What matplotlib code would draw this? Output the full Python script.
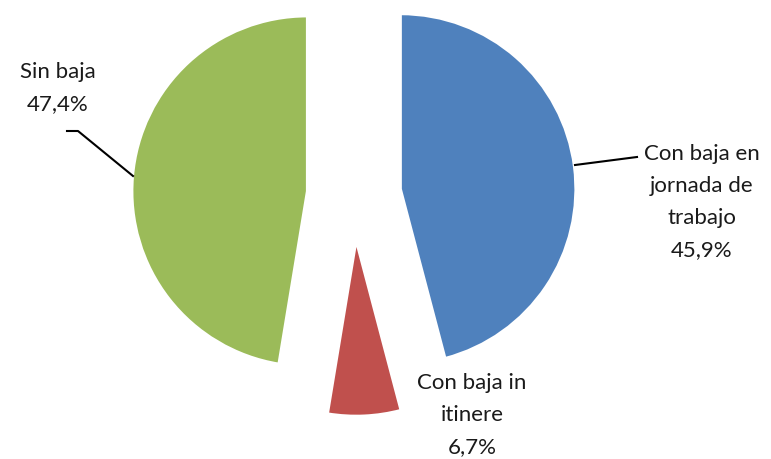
import matplotlib.pyplot as plt

# data
labels = ["Con baja en\njornada de\ntrabajo\n45,9%", "Con baja in\nitinere\n6,7%", "Sin baja\n47,4%"]
shares = [45.9, 6.7, 47.4]
colors = ["#4F81BD", "#C0504D", "#9BBB59"]

W, H = 771, 459
fig = plt.figure(figsize=(W / 100, H / 100), dpi=100)
ax = fig.add_axes([0, 0, 1, 1])

# pixel coords (y measured from top in the picture)
cx, cy, r = 354, 195, 175
explode = [47, 46, 47]  # offsets in pixels (pie uses data units)

ax.pie(shares, colors=colors, explode=explode, startangle=90, counterclock=False,
       center=(cx, H - cy), radius=r, frame=True,
       wedgeprops=dict(edgecolor="white", linewidth=1.8))
ax.set_xlim(0, W)
ax.set_ylim(0, H)
ax.set_aspect("equal")
ax.axis("off")

font = dict(family="Lato", fontsize=16, color="#1a1a1a", ha="center", va="center",
            linespacing=1.76)
ax.text(702, H - 202, labels[0], **font)
ax.text(472, H - 415, labels[1], **font)
ax.text(58, H - 88, labels[2], **font)

# leader lines
ax.plot([575, 637], [H - 165, H - 157], color="black", lw=1.5)
ax.plot([67, 78, 133], [H - 131, H - 131, H - 176], color="black", lw=1.5)

fig.savefig("out.png", dpi=100)
